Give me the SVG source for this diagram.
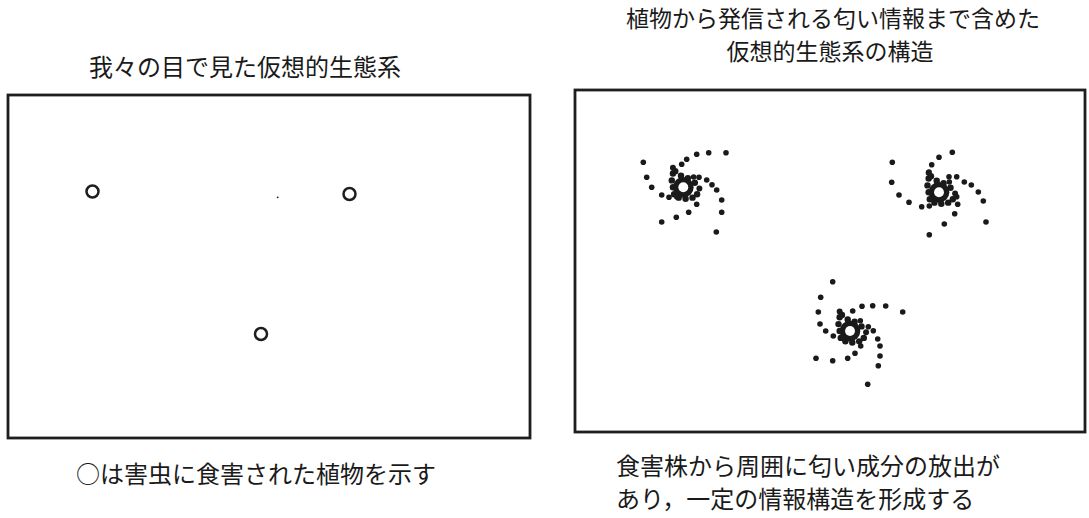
<svg xmlns="http://www.w3.org/2000/svg" width="1089" height="518" viewBox="0 0 1089 518">
<style>
.t{font-family:"Noto Sans CJK JP","Noto Sans CJK SC",sans-serif;font-size:24px;fill:#1a1a1a}
.t2{font-family:"Noto Sans CJK JP","Noto Sans CJK SC",sans-serif;font-size:23px;fill:#1a1a1a}
.box{fill:none;stroke:#1e1e1e;stroke-width:2.8}
.plant{fill:none;stroke:#1e1e1e;stroke-width:2.5}
.d{fill:#1a1a1a}
</style>
<defs>
<g id="blob" transform="scale(1.15)">
<circle r="9" class="d"/>
<circle cx="-9" cy="-17" r="2.6" class="d"/><circle cx="-9" cy="-12" r="2.8" class="d"/><circle cx="-10" cy="-6" r="2.8" class="d"/>
<circle cx="-9" cy="0" r="2.8" class="d"/><circle cx="-8" cy="6" r="2.8" class="d"/><circle cx="-4" cy="9" r="2.8" class="d"/>
<circle cx="2" cy="10" r="2.8" class="d"/><circle cx="8" cy="9" r="2.8" class="d"/><circle cx="12" cy="6" r="2.8" class="d"/>
<circle cx="14" cy="1" r="2.6" class="d"/><circle cx="10" cy="-4" r="2.8" class="d"/><circle cx="4" cy="-8" r="2.8" class="d"/>
<circle cx="-2" cy="-10" r="2.8" class="d"/><circle cx="-7" cy="-14" r="2.8" class="d"/><circle cx="9" cy="-9" r="2.4" class="d"/>
<circle r="4.3" fill="#fff"/>
</g>
</defs>
<g id="left-title"><text class="t" x="245" y="76" text-anchor="middle">我々の目で見た仮想的生態系</text></g>
<g id="right-title"><text class="t2" x="833" y="27" text-anchor="middle">植物から発信される匂い情報まで含めた</text>
<text class="t2" x="830" y="60" text-anchor="middle">仮想的生態系の構造</text></g>
<g id="left-panel">
<rect class="box" x="8" y="95" width="522" height="343"/>
<circle class="plant" cx="92.5" cy="191.5" r="6"/>
<circle class="plant" cx="349.5" cy="194" r="6"/>
<circle class="plant" cx="261" cy="334" r="6"/>
<circle cx="277.7" cy="197.3" r="0.9" class="d"/>
</g>
<g id="right-panel">
<rect class="box" x="575" y="90" width="510" height="342"/>
</g>
<g id="spiral-a">
<use href="#blob" x="683.3" y="187.3"/>
<circle class="d" r="2.8" cx="643.3" cy="162.3"/><circle class="d" r="2.8" cx="646.7" cy="177.3"/><circle class="d" r="2.8" cx="651.7" cy="187.3"/>
<circle class="d" r="2.8" cx="661.7" cy="195"/><circle class="d" r="2.8" cx="669" cy="197.3"/><circle class="d" r="2.8" cx="676.7" cy="196.7"/>
<circle class="d" r="2.8" cx="681.7" cy="164.3"/><circle class="d" r="2.8" cx="686.7" cy="159.3"/><circle class="d" r="2.8" cx="696.7" cy="154.3"/>
<circle class="d" r="2.8" cx="708.7" cy="152.7"/><circle class="d" r="2.8" cx="726" cy="152.7"/><circle class="d" r="2.8" cx="699" cy="177.3"/>
<circle class="d" r="2.8" cx="706.7" cy="180"/><circle class="d" r="2.8" cx="712" cy="184.7"/><circle class="d" r="2.8" cx="716.7" cy="190"/>
<circle class="d" r="2.8" cx="721.7" cy="200"/><circle class="d" r="2.8" cx="721.7" cy="212.3"/><circle class="d" r="2.8" cx="716.3" cy="232"/>
<circle class="d" r="2.8" cx="696.7" cy="204.3"/><circle class="d" r="2.8" cx="688.7" cy="212.3"/><circle class="d" r="2.8" cx="676.3" cy="217.3"/>
<circle class="d" r="2.8" cx="661.7" cy="222"/>
</g>
<g id="spiral-b">
<use href="#blob" x="939" y="192.3"/>
<circle class="d" r="2.8" cx="892.3" cy="162.3"/><circle class="d" r="2.8" cx="891.7" cy="182.3"/><circle class="d" r="2.8" cx="899" cy="195"/>
<circle class="d" r="2.8" cx="909" cy="202.3"/><circle class="d" r="2.8" cx="921.7" cy="206.7"/><circle class="d" r="2.8" cx="929.3" cy="206"/>
<circle class="d" r="2.8" cx="939" cy="157.3"/><circle class="d" r="2.8" cx="952.3" cy="152.3"/><circle class="d" r="2.8" cx="931.7" cy="164.7"/>
<circle class="d" r="2.8" cx="929" cy="172"/><circle class="d" r="2.8" cx="956.7" cy="176.7"/><circle class="d" r="2.8" cx="964.3" cy="182"/>
<circle class="d" r="2.8" cx="971.3" cy="185"/><circle class="d" r="2.8" cx="978.3" cy="192"/><circle class="d" r="2.8" cx="983.3" cy="201"/>
<circle class="d" r="2.8" cx="986" cy="222"/><circle class="d" r="2.8" cx="956.7" cy="196.7"/><circle class="d" r="2.8" cx="957.7" cy="204.3"/>
<circle class="d" r="2.8" cx="954.7" cy="213.7"/><circle class="d" r="2.8" cx="944.3" cy="224"/><circle class="d" r="2.8" cx="929.3" cy="234.7"/>
<circle class="d" r="2.8" cx="949" cy="176.7"/>
</g>
<g id="spiral-c">
<use href="#blob" x="850" y="331"/>
<circle class="d" r="2.8" cx="832.7" cy="281.7"/><circle class="d" r="2.8" cx="820.7" cy="297.3"/><circle class="d" r="2.8" cx="818.3" cy="312"/>
<circle class="d" r="2.8" cx="820" cy="324"/><circle class="d" r="2.8" cx="825.7" cy="331"/><circle class="d" r="2.8" cx="833.3" cy="336"/>
<circle class="d" r="2.8" cx="852.7" cy="311"/><circle class="d" r="2.8" cx="862" cy="306.3"/><circle class="d" r="2.8" cx="872.7" cy="305.7"/>
<circle class="d" r="2.8" cx="885.7" cy="306"/><circle class="d" r="2.8" cx="902.7" cy="312"/><circle class="d" r="2.8" cx="868.3" cy="326.7"/>
<circle class="d" r="2.8" cx="873.3" cy="330.7"/><circle class="d" r="2.8" cx="877.7" cy="339"/><circle class="d" r="2.8" cx="880" cy="346"/>
<circle class="d" r="2.8" cx="880" cy="356"/><circle class="d" r="2.8" cx="878.3" cy="365.7"/><circle class="d" r="2.8" cx="867.7" cy="384.3"/>
<circle class="d" r="2.8" cx="855" cy="353.3"/><circle class="d" r="2.8" cx="847.7" cy="358.3"/><circle class="d" r="2.8" cx="832.7" cy="360.7"/>
<circle class="d" r="2.8" cx="816" cy="358.3"/><circle class="d" r="2.8" cx="860.7" cy="346"/>
</g>
<g id="left-caption"><text class="t" x="256" y="483" text-anchor="middle">○は害虫に食害された植物を示す</text></g>
<g id="right-caption"><text class="t" x="616" y="475">食害株から周囲に匂い成分の放出が</text>
<text class="t" x="616" y="508">あり，一定の情報構造を形成する</text></g>
</svg>
